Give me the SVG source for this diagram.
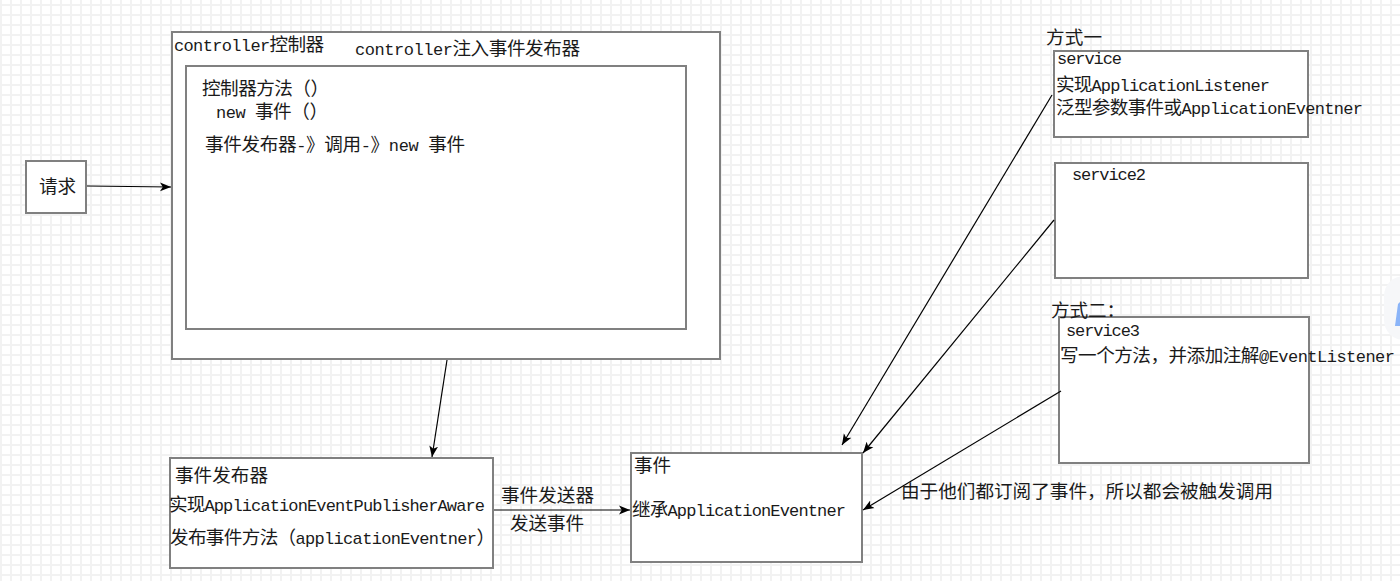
<svg xmlns="http://www.w3.org/2000/svg" width="1400" height="581" viewBox="0 0 1400 581">
<style>
.box{fill:#fff;stroke:#808080;stroke-width:2}
.t{font-family:"Liberation Mono","Noto Sans CJK SC",monospace;font-size:18.6px;fill:#1a1a1a}
.l{font-size:17px}
.cn{fill:none;stroke:#000;stroke-width:1.2;marker-end:url(#arr)}
</style>
<defs>
<pattern id="grid" width="10" height="10" patternUnits="userSpaceOnUse" x="0" y="4">
<rect x="0" y="0" width="10" height="2" fill="#f2f2f2"/>
<rect x="0" y="0" width="2" height="10" fill="#f2f2f2"/>
</pattern>
<marker id="arr" viewBox="0 0 10 10" refX="10" refY="5" markerWidth="11" markerHeight="11" markerUnits="userSpaceOnUse" orient="auto">
<path d="M0,1 L10,5 L0,9 L2.5,5 Z" fill="#000"/>
</marker>
</defs>
<rect width="1400" height="581" fill="#fff"/>
<rect width="1400" height="581" fill="url(#grid)"/>
<g id="widget">
<rect x="1384" y="276" width="40" height="64" rx="20" fill="#f6f7f9"/>
<path d="M1398,304 L1400,302 L1400,326 L1395,326 Z" fill="#8ab4f8"/>
</g>
<g id="request">
<rect class="box" x="26" y="161" width="60" height="52"/>
<text class="t" x="39" y="193" textLength="37">请求</text>
</g>
<g id="controller">
<rect class="box" x="172" y="32" width="548" height="327"/>
<text class="t" x="174" y="51" textLength="150"><tspan class="l">controller</tspan>控制器</text>
<text class="t" x="355" y="55" textLength="225"><tspan class="l">controller</tspan>注入事件发布器</text>
</g>
<g id="controller-method">
<rect class="box" x="186" y="66" width="500" height="263"/>
<text class="t" x="202" y="95" textLength="127">控制器方法（）</text>
<text class="t" x="216" y="118" textLength="112"><tspan class="l">new </tspan>事件（）</text>
<text class="t" x="205" y="151" textLength="260">事件发布器<tspan class="l">-</tspan>》调用<tspan class="l">-</tspan>》<tspan class="l">new </tspan>事件</text>
</g>
<g id="publisher">
<rect class="box" x="170" y="458" width="323" height="110"/>
<text class="t" x="175" y="482" textLength="93">事件发布器</text>
<text class="t" x="169" y="511" textLength="316">实现<tspan class="l">ApplicationEventPublisherAware</tspan></text>
<text class="t" x="170" y="544" textLength="325">发布事件方法（<tspan class="l">applicationEventner</tspan>）</text>
</g>
<g id="event">
<rect class="box" x="631" y="453" width="231" height="109"/>
<text class="t" x="634" y="472" textLength="37">事件</text>
<text class="t" x="632" y="516" textLength="214">继承<tspan class="l">ApplicationEventner</tspan></text>
</g>
<g id="service">
<rect class="box" x="1054" y="51" width="254" height="86"/>
<text class="t l" x="1057" y="64" textLength="65">service</text>
<text class="t" x="1056" y="91" textLength="214">实现<tspan class="l">ApplicationListener</tspan></text>
<text class="t" x="1056" y="114" textLength="307">泛型参数事件或<tspan class="l">ApplicationEventner</tspan></text>
</g>
<g id="service2">
<rect class="box" x="1055" y="163" width="253" height="115"/>
<text class="t l" x="1072" y="180" textLength="74">service2</text>
</g>
<g id="service3">
<rect class="box" x="1059" y="317" width="250" height="146"/>
<text class="t l" x="1066" y="336" textLength="74">service3</text>
<text class="t" x="1060" y="362" textLength="335">写一个方法，并添加注解<tspan class="l">@EventListener</tspan></text>
</g>
<g id="connectors">
<path class="cn" d="M87,186 L171,187"/>
<path class="cn" d="M447,360 L432,457"/>
<path class="cn" d="M494,510 L630,510"/>
<path class="cn" d="M1052,95 L842,445"/>
<path class="cn" d="M1054,220 L863,453"/>
<path class="cn" d="M1061,391 L863,510"/>
</g>
<g id="labels">
<text class="t" x="1046" y="44" textLength="56">方式一</text>
<text class="t" x="1051" y="317" textLength="74">方式二：</text>
<text class="t" x="501" y="502" textLength="93">事件发送器</text>
<text class="t" x="510" y="530" textLength="74">发送事件</text>
<text class="t" x="901" y="498" textLength="372">由于他们都订阅了事件，所以都会被触发调用</text>
</g>
</svg>
